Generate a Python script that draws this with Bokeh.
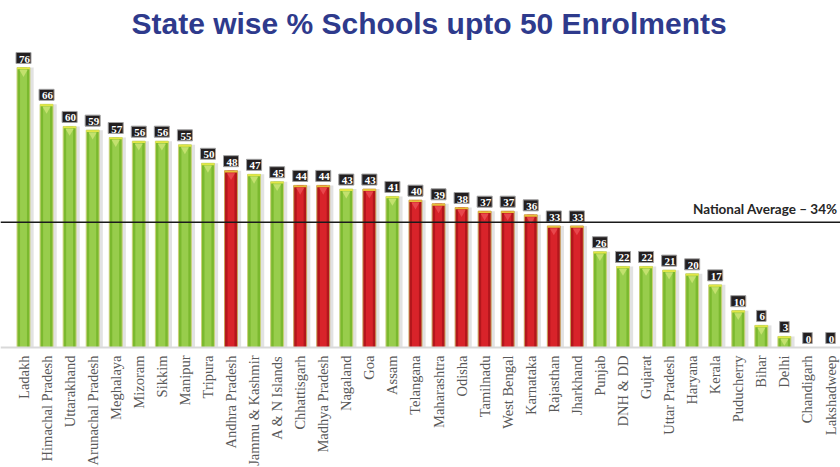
import math
from bokeh.plotting import figure
from bokeh.models import ColumnDataSource, Span, Label, Range1d, Title
from bokeh.core.properties import value
from bokeh.embed import file_html
from bokeh.resources import INLINE

states = ["Ladakh", "Himachal Pradesh", "Uttarakhand", "Arunachal Pradesh", "Meghalaya",
          "Mizoram", "Sikkim", "Manipur", "Tripura", "Andhra Pradesh", "Jammu & Kashmir",
          "A & N Islands", "Chhattisgarh", "Madhya Pradesh", "Nagaland", "Goa", "Assam",
          "Telangana", "Maharashtra", "Odisha", "Tamilnadu", "West Bengal", "Karnataka",
          "Rajasthan", "Jharkhand", "Punjab", "DNH & DD", "Gujarat", "Uttar Pradesh",
          "Haryana", "Kerala", "Puducherry", "Bihar", "Delhi", "Chandigarh", "Lakshadweep"]
pct_schools = [76, 66, 60, 59, 57, 56, 56, 55, 50, 48, 47, 45, 44, 44, 43, 43, 41, 40,
               39, 38, 37, 37, 36, 33, 33, 26, 22, 22, 21, 20, 17, 10, 6, 3, 0, 0]
red_states = ["Andhra Pradesh", "Chhattisgarh", "Madhya Pradesh", "Goa", "Telangana",
              "Maharashtra", "Odisha", "Tamilnadu", "West Bengal", "Karnataka",
              "Rajasthan", "Jharkhand"]
national_average = 34

W, H = 840, 467
px_per_cat = 807 / 35.0
x_start = -23 / px_per_cat
x_end = x_start + W / px_per_cat
frame_top = 40
baseline_px = 347
px_per_unit = 280 / 76.0
y_end = (baseline_px - frame_top) / px_per_unit
y_start = -(H - baseline_px) / px_per_unit

xs = list(range(len(states)))
is_red = [s in red_states for s in states]
src = ColumnDataSource(dict(
    x=xs,
    xs=[x + 0.1 for x in xs],
    zero=[0] * len(xs),
    name=states,
    val=pct_schools,
    cap_bottom=[max(v - 0.5, 0) for v in pct_schools],
    bevel_y=[v - 1.3 for v in pct_schools],
    bevel_alpha=[1 if v > 2 else 0 for v in pct_schools],
    lbl=[str(v) for v in pct_schools],
    edge=["#B3161C" if r else "#7BB92E" for r in is_red],
    mid=["#D8232A" if r else "#98CD4C" for r in is_red],
    rim=["#C9A15A" if r else "#C9D27A" for r in is_red],
    cap=["#E6C03A" if r else "#E2E646" for r in is_red],
    bevel=["#E8474C" if r else "#C3E16E" for r in is_red],
))

p = figure(width=W, height=H, output_backend="svg", toolbar_location=None,
           x_range=Range1d(x_start, x_end), y_range=Range1d(y_start, y_end),
           min_border_left=0, min_border_right=0, min_border_top=frame_top,
           min_border_bottom=0, outline_line_color=None)
p.title = Title(text="State wise % Schools  upto 50 Enrolments", align="left", offset=131,
                text_font="Liberation Sans", text_font_size="30px",
                text_font_style="bold", text_color="#2E3A8C", standoff=2)
p.grid.visible = False
p.axis.visible = False
p.background_fill_color = "white"
p.border_fill_color = "white"

p.add_layout(Span(location=0, dimension="width", line_color="#D9D9D9", line_width=2))

# bars with a light shadow, darker edge, bright centre, yellow cap and bevel
p.vbar(x="xs", top="val", width=0.68, source=src, fill_color="#D6D6D6",
       line_color=None, fill_alpha=0.7)
p.vbar(x="x", top="val", width=0.56, source=src, fill_color="edge",
       line_color="rim", line_width=1)
p.vbar(x="x", top="val", width=0.3, source=src, fill_color="mid", line_color=None)
p.vbar(x="x", bottom="cap_bottom", top="val", width=0.56, source=src,
       fill_color="cap", line_color=None)
p.scatter(x="x", y="bevel_y", source=src, marker="inverted_triangle", size=8,
          fill_color="bevel", line_color=None, fill_alpha="bevel_alpha")

# category labels (rotated)
p.text(x="x", y="zero", text="name", source=src, angle=math.pi / 2, y_offset=8,
       text_align="right", text_baseline="middle",
       text_font=value("Liberation Serif"), text_font_size="14.5px",
       text_color="#595959")

p.add_layout(Span(location=national_average, dimension="width",
                  line_color="#1A1A1A", line_width=1.5))
p.add_layout(Label(x=x_end, y=national_average, x_offset=-3, y_offset=5,
                   text="National Average – " + str(national_average) + "%",
                   text_align="right", text_baseline="bottom",
                   text_font="Lato", text_font_style="bold",
                   text_font_size="13.5px", text_color="#262626"))

# value boxes
p.text(x="x", y="val", text="lbl", source=src, y_offset=-4,
       text_align="center", text_baseline="bottom",
       text_font=value("Liberation Serif"), text_font_style="bold",
       text_font_size="11px", text_color="white",
       background_fill_color="#231F20", border_line_color="#A0A0A0",
       border_line_width=1, padding=[3, 1, 3, 1])

open("out.html", "w").write(file_html(p, INLINE))
